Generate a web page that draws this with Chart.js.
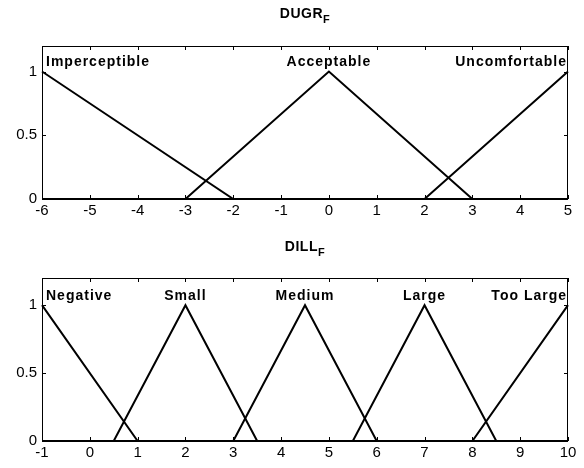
<!DOCTYPE html>
<html><head><meta charset="utf-8">
<script src="https://cdn.jsdelivr.net/npm/chart.js@4/dist/chart.umd.min.js"></script>
<style>
html,body{margin:0;padding:0;background:#fff;width:584px;height:468px;overflow:hidden}
canvas{position:absolute;left:0}
</style></head><body>
<canvas id="c1" width="584" height="234" style="top:0px"></canvas>
<canvas id="c2" width="584" height="234" style="top:234px"></canvas>
<script>
// ---- DUGR_F ----
const dugrTitle = 'DUGR';
const dugrSub = 'F';
const dugrXRange = [-6, 5];
const dugrNames = ['Imperceptible', 'Acceptable', 'Uncomfortable'];
const dugrX = [[-6, -2, 5], [-6, -3, 0, 3, 5], [-6, 2, 5]];
const dugrY = [[1, 0, 0], [0, 0, 1, 0, 0], [0, 0, 1]];

// ---- DILL_F ----
const dillTitle = 'DILL';
const dillSub = 'F';
const dillXRange = [-1, 10];
const dillNames = ['Negative', 'Small', 'Medium', 'Large', 'Too Large'];
const dillX = [[-1, 1, 10], [-1, 0.5, 2, 3.5, 10], [-1, 3, 4.5, 6, 10], [-1, 5.5, 7, 8.5, 10], [-1, 8, 10]];
const dillY = [[1, 0, 0], [0, 0, 1, 0, 0], [0, 0, 1, 0, 0], [0, 0, 1, 0, 0], [0, 0, 1]];

const yTickValues = [0, 0.5, 1];
const yMax = 1.2;

const TICK_FAMILY = '"Liberation Sans Narrow", "Liberation Sans", Arial, sans-serif';
const LABEL_FONT = 'bold 14px "Liberation Sans", Arial, sans-serif';

const framePlugin = {
  id: 'frame',
  afterDraw(chart) {
    const {ctx, chartArea: a, scales} = chart;
    ctx.save();
    ctx.strokeStyle = '#000';
    ctx.lineWidth = 1;
    ctx.strokeRect(Math.round(a.left) + 0.5, Math.round(a.top) + 0.5,
                   Math.round(a.right - a.left) - 1, Math.round(a.bottom - a.top));
    ctx.beginPath();
    const tl = 4;
    scales.x.ticks.forEach(t => {
      const px = Math.round(scales.x.getPixelForValue(t.value)) + 0.5;
      ctx.moveTo(px, a.bottom); ctx.lineTo(px, a.bottom - tl);
      ctx.moveTo(px, a.top); ctx.lineTo(px, a.top + tl);
    });
    scales.y.ticks.forEach(t => {
      const py = Math.round(scales.y.getPixelForValue(t.value)) + 0.5;
      ctx.moveTo(a.left, py); ctx.lineTo(a.left + tl, py);
      ctx.moveTo(a.right, py); ctx.lineTo(a.right - tl, py);
    });
    ctx.stroke();
    ctx.restore();
  }
};

const labelPlugin = {
  id: 'mfLabels',
  afterDatasetsDraw(chart, args, opts) {
    const {ctx, scales} = chart;
    ctx.save();
    ctx.font = LABEL_FONT;
    ctx.letterSpacing = '1px';
    ctx.fillStyle = '#000';
    ctx.textBaseline = 'middle';
    const xmin = scales.x.min, xmax = scales.x.max;
    chart.data.datasets.forEach(ds => {
      let peak = ds.data[0];
      ds.data.forEach(p => { if (p.y > peak.y) peak = p; });
      let align = 'center';
      if (peak.x <= xmin) align = 'left';
      else if (peak.x >= xmax) align = 'right';
      ctx.textAlign = align;
      let px = scales.x.getPixelForValue(peak.x);
      if (align === 'left') px += 4;
      if (align === 'right') px -= 1;
      const py = scales.y.getPixelForValue(peak.y) - 9;
      ctx.fillText(ds.label, px, py);
    });
    // title with subscript
    const t = opts.title, s = opts.sub;
    ctx.letterSpacing = '0.5px';
    ctx.font = 'bold 14px "Liberation Sans", Arial, sans-serif';
    const w1 = ctx.measureText(t).width;
    ctx.font = 'bold 11px "Liberation Sans", Arial, sans-serif';
    const w2 = ctx.measureText(s).width;
    const cx = (chart.chartArea.left + chart.chartArea.right) / 2;
    const x0 = cx - (w1 + w2) / 2;
    ctx.textAlign = 'left';
    ctx.textBaseline = 'alphabetic';
    ctx.font = 'bold 14px "Liberation Sans", Arial, sans-serif';
    ctx.fillText(t, x0, opts.titleY);
    ctx.font = 'bold 11px "Liberation Sans", Arial, sans-serif';
    ctx.fillText(s, x0 + w1, opts.titleY + 5);
    ctx.restore();
  }
};

function makeChart(id, names, xs, ys, xRange, title, sub, padTop, axisH, titleY) {
  const datasets = names.map((n, i) => ({
    label: n,
    data: xs[i].map((x, j) => ({x: x, y: ys[i][j]})),
    borderColor: '#000',
    backgroundColor: '#000',
    borderWidth: 2,
    pointRadius: 0,
    showLine: true,
    tension: 0,
    clip: 4
  }));
  return new Chart(document.getElementById(id), {
    type: 'scatter',
    data: {datasets},
    plugins: [framePlugin, labelPlugin],
    options: {
      responsive: false,
      animation: false,
      events: [],
      layout: {padding: {left: 0, right: 16, top: padTop, bottom: 0}},
      plugins: {
        legend: {display: false},
        tooltip: {enabled: false},
        title: {display: false},
        mfLabels: {title: title, sub: sub, titleY: titleY}
      },
      scales: {
        x: {
          type: 'linear', min: xRange[0], max: xRange[1],
          ticks: {stepSize: 1, color: '#000', font: {family: TICK_FAMILY, size: 15}, padding: 3, maxRotation: 0, autoSkip: false,
                  callback: v => String(v)},
          grid: {display: false, drawTicks: false},
          border: {display: false},
          afterFit(s) { s.height = axisH; }
        },
        y: {
          type: 'linear', min: 0, max: yMax,
          afterBuildTicks(s) { s.ticks = yTickValues.map(v => ({value: v})); },
          ticks: {color: '#000', font: {family: TICK_FAMILY, size: 15}, padding: 5, callback: v => String(v)},
          grid: {display: false, drawTicks: false},
          border: {display: false},
          afterFit(s) { s.width = 42; }
        }
      }
    }
  });
}

makeChart('c1', dugrNames, dugrX, dugrY, dugrXRange, dugrTitle, dugrSub, 46, 35, 18);
makeChart('c2', dillNames, dillX, dillY, dillXRange, dillTitle, dillSub, 44, 27, 17);
</script>
</body></html>
